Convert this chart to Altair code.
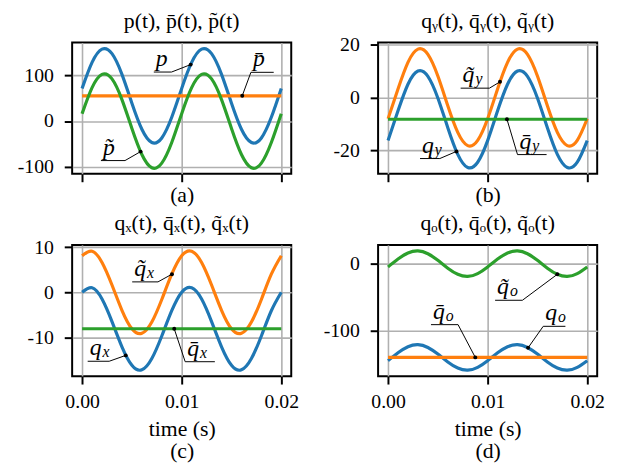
import altair as alt
import pandas as pd

# ---------------- data ----------------
T = [0.000, 0.001, 0.002, 0.003, 0.004, 0.005, 0.006, 0.007, 0.008, 0.009, 0.010,
     0.011, 0.012, 0.013, 0.014, 0.015, 0.016, 0.017, 0.018, 0.019, 0.020]

# panel (a)
P = [71.1, 127.8, 156.7, 146.8, 101.8, 38.9, -17.8, -46.7, -36.8, 8.2,
     71.1, 127.8, 156.7, 146.8, 101.8, 38.9, -17.8, -46.7, -36.8, 8.2, 71.1]
P_BAR = [55.0, 55.0, 55.0, 55.0, 55.0, 55.0, 55.0, 55.0, 55.0, 55.0, 55.0,
         55.0, 55.0, 55.0, 55.0, 55.0, 55.0, 55.0, 55.0, 55.0, 55.0]
P_TILDE = [16.1, 72.8, 101.7, 91.8, 46.8, -16.1, -72.8, -101.7, -91.8, -46.8,
           16.1, 72.8, 101.7, 91.8, 46.8, -16.1, -72.8, -101.7, -91.8, -46.8, 16.1]

# panel (b)
QY = [-16.4, -5.1, 5.0, 10.0, 8.0, -0.2, -11.5, -21.6, -26.6, -24.6,
      -16.4, -5.1, 5.0, 10.0, 8.0, -0.2, -11.5, -21.6, -26.6, -24.6, -16.4]
QY_TILDE = [-8.1, 3.2, 13.3, 18.3, 16.3, 8.1, -3.2, -13.3, -18.3, -16.3,
            -8.1, 3.2, 13.3, 18.3, 16.3, 8.1, -3.2, -13.3, -18.3, -16.3, -8.1]
QY_BAR = [-8.3, -8.3, -8.3, -8.3, -8.3, -8.3, -8.3, -8.3, -8.3, -8.3, -8.3,
          -8.3, -8.3, -8.3, -8.3, -8.3, -8.3, -8.3, -8.3, -8.3, -8.3]

# panel (c)
QX = [0.0, 1.0, -1.5, -6.5, -12.1, -16.2, -17.2, -14.7, -9.7, -4.1,
      0.0, 1.0, -1.5, -6.5, -12.1, -16.2, -17.2, -14.7, -9.7, -4.1, 0.0]
QX_TILDE = [8.1, 9.1, 6.6, 1.6, -4.0, -8.1, -9.1, -6.6, -1.6, 4.0,
            8.1, 9.1, 6.6, 1.6, -4.0, -8.1, -9.1, -6.6, -1.6, 4.0, 8.1]
QX_BAR = [-8.1, -8.1, -8.1, -8.1, -8.1, -8.1, -8.1, -8.1, -8.1, -8.1, -8.1,
          -8.1, -8.1, -8.1, -8.1, -8.1, -8.1, -8.1, -8.1, -8.1, -8.1]

# panel (d)
QO = [-144.9, -133.2, -124.1, -121.0, -125.2, -135.1, -146.8, -155.9, -159.0, -154.8,
      -144.9, -133.2, -124.1, -121.0, -125.2, -135.1, -146.8, -155.9, -159.0, -154.8, -144.9]
QO_BAR = [-140.0, -140.0, -140.0, -140.0, -140.0, -140.0, -140.0, -140.0, -140.0, -140.0, -140.0,
          -140.0, -140.0, -140.0, -140.0, -140.0, -140.0, -140.0, -140.0, -140.0, -140.0]
QO_TILDE = [-4.9, 6.8, 15.9, 19.0, 14.8, 4.9, -6.8, -15.9, -19.0, -14.8,
            -4.9, 6.8, 15.9, 19.0, 14.8, 4.9, -6.8, -15.9, -19.0, -14.8, -4.9]

X_TICKS = [0.0, 0.01, 0.02]

TITLES = [
    "p(t), p\u0304(t), p\u0303(t)",
    "q\u1d67(t), q\u0304\u1d67(t), q\u0303\u1d67(t)",
    "q\u2093(t), q\u0304\u2093(t), q\u0303\u2093(t)",
    "q\u2092(t), q\u0304\u2092(t), q\u0303\u2092(t)",
]

# annotations: (main text, subscript, underline t1, t2, v, leader end t, v, dot t, v)
ANN_A = [
    ("p", "", 0.0072, 0.00898, 106.8, 0.00898, 106.8, 0.0109, 123.0),
    ("p\u0304", "", 0.01695, 0.01924, 106.2, 0.01695, 106.2, 0.01608, 55.0),
    ("p\u0303", "", 0.00189, 0.00431, -86.1, 0.00431, -86.1, 0.00587, -66.6),
]
ANN_B = [
    ("q\u0303", "y", 0.00729, 0.01018, 3.5, 0.01018, 3.5, 0.01124, 5.9),
    ("q\u0304", "y", 0.0130, 0.01592, -21.7, 0.0130, -21.7, 0.01194, -8.3),
    ("q", "y", 0.00321, 0.00520, -23.2, 0.00520, -23.2, 0.00687, -20.5),
]
ANN_C = [
    ("q\u0303", "x", 0.00503, 0.00762, 2.3, 0.00762, 2.3, 0.00902, 4.0),
    ("q\u0304", "x", 0.01035, 0.01333, -15.4, 0.01035, -15.4, 0.00925, -8.1),
    ("q", "x", 0.00056, 0.00272, -15.3, 0.00272, -15.3, 0.00438, -14.0),
]
ANN_D = [
    ("q\u0303", "o", 0.01075, 0.01349, -54.7, 0.01349, -54.7, 0.0170, -15.9),
    ("q\u0304", "o", 0.00431, 0.00703, -91.1, 0.00703, -91.1, 0.00876, -140.0),
    ("q", "o", 0.01558, 0.01781, -93.6, 0.01558, -93.6, 0.01406, -125.7),
]

FONT = "Liberation Serif"
BLUE, ORANGE, GREEN = "#1f77b4", "#ff7f0e", "#2ca02c"
W, H = 222, 133


def panel(title, series, ydomain, yticks, ann, bottom, sub):
    x_enc = alt.X(
        "t:Q",
        scale=alt.Scale(domain=[-0.001, 0.021], nice=False, zero=False),
        axis=alt.Axis(values=X_TICKS, format=".2f", labels=bottom, labelPadding=8,
                      titlePadding=(7 if bottom else 2),
                      title=(["time (s)", sub] if bottom else sub)),
    )
    y_enc = alt.Y(
        "v:Q",
        scale=alt.Scale(domain=ydomain, nice=False, zero=False),
        axis=alt.Axis(values=yticks, title=None, labelPadding=11,
                      labelExpr="(datum.value < 0 ? '-' : '') + format(abs(datum.value), 'd')"),
    )
    layers = []
    for vals, color in series:
        df = pd.DataFrame({"t": T, "v": vals})
        layers.append(
            alt.Chart(df).mark_line(color=color, strokeWidth=3.2, interpolate="natural", clip=True)
            .encode(x=x_enc, y=y_enc)
        )
    segs = []
    dots = []
    labs = []
    for main, s, t1, t2, v, lt, lv, dt, dv in ann:
        segs.append({"t": t1, "v": v, "t2": t2, "v2": v})
        segs.append({"t": lt, "v": lv, "t2": dt, "v2": dv})
        dots.append({"t": dt, "v": dv})
        labs.append({"t": t1, "v": v, "main": main, "sub": s})
    seg_df = pd.DataFrame(segs)
    dot_df = pd.DataFrame(dots)
    lab_df = pd.DataFrame(labs)
    layers.append(
        alt.Chart(seg_df).mark_rule(color="black", strokeWidth=1)
        .encode(x=x_enc, y=y_enc, x2="t2:Q", y2="v2:Q")
    )
    layers.append(
        alt.Chart(dot_df).mark_circle(color="black", size=16, opacity=1)
        .encode(x=x_enc, y=y_enc)
    )
    layers.append(
        alt.Chart(lab_df).mark_text(font=FONT, fontStyle="italic", fontSize=24, align="left",
                                    baseline="alphabetic", dx=2, dy=-6, color="black")
        .encode(x=x_enc, y=y_enc, text="main:N")
    )
    layers.append(
        alt.Chart(lab_df).mark_text(font=FONT, fontStyle="italic", fontSize=16, align="left",
                                    baseline="alphabetic", dx=15, dy=-4, color="black")
        .encode(x=x_enc, y=y_enc, text="sub:N")
    )
    # panel title drawn as a text mark so every panel's title sits at the same height
    layers.append(
        alt.Chart(pd.DataFrame({"title": [title]})).mark_text(
            font=FONT, fontSize=22, align="center", baseline="alphabetic", color="black"
        ).encode(x=alt.value(W / 2), y=alt.value(-15), text="title:N")
    )
    return alt.layer(*layers).properties(width=W, height=H)


a = panel(TITLES[0], [(P, BLUE), (P_BAR, ORANGE), (P_TILDE, GREEN)],
          [-115, 171], [-100, 0, 100], ANN_A, False, "(a)")
b = panel(TITLES[1], [(QY, BLUE), (QY_TILDE, ORANGE), (QY_BAR, GREEN)],
          [-29, 20.8], [-20, 0, 20], ANN_B, False, "(b)")
c = panel(TITLES[2], [(QX, BLUE), (QX_TILDE, ORANGE), (QX_BAR, GREEN)],
          [-18.6, 10.5], [-10, 0, 10], ANN_C, True, "(c)")
d = panel(TITLES[3], [(QO, BLUE), (QO_BAR, ORANGE), (QO_TILDE, GREEN)],
          [-168, 28], [-100, 0], ANN_D, True, "(d)")

chart = alt.concat(a, b, c, d, columns=2, spacing={"row": 72, "column": 88}, bounds="flush").properties(
    padding={"left": 8, "top": -2, "right": 5, "bottom": 0}
).configure_view(
    stroke="black", strokeWidth=2
).configure_axis(
    domain=False, grid=True, gridColor="#b0b0b0", gridWidth=1.6, gridOpacity=1,
    tickColor="black", tickWidth=2, tickSize=8,
    labelFont=FONT, labelFontSize=20, labelColor="black",
    titleFont=FONT, titleFontSize=22, titleFontWeight="normal", titleColor="black",
    titleLineHeight=22,
)

chart.save("out.html", embed_options={"renderer": "svg", "actions": False})
